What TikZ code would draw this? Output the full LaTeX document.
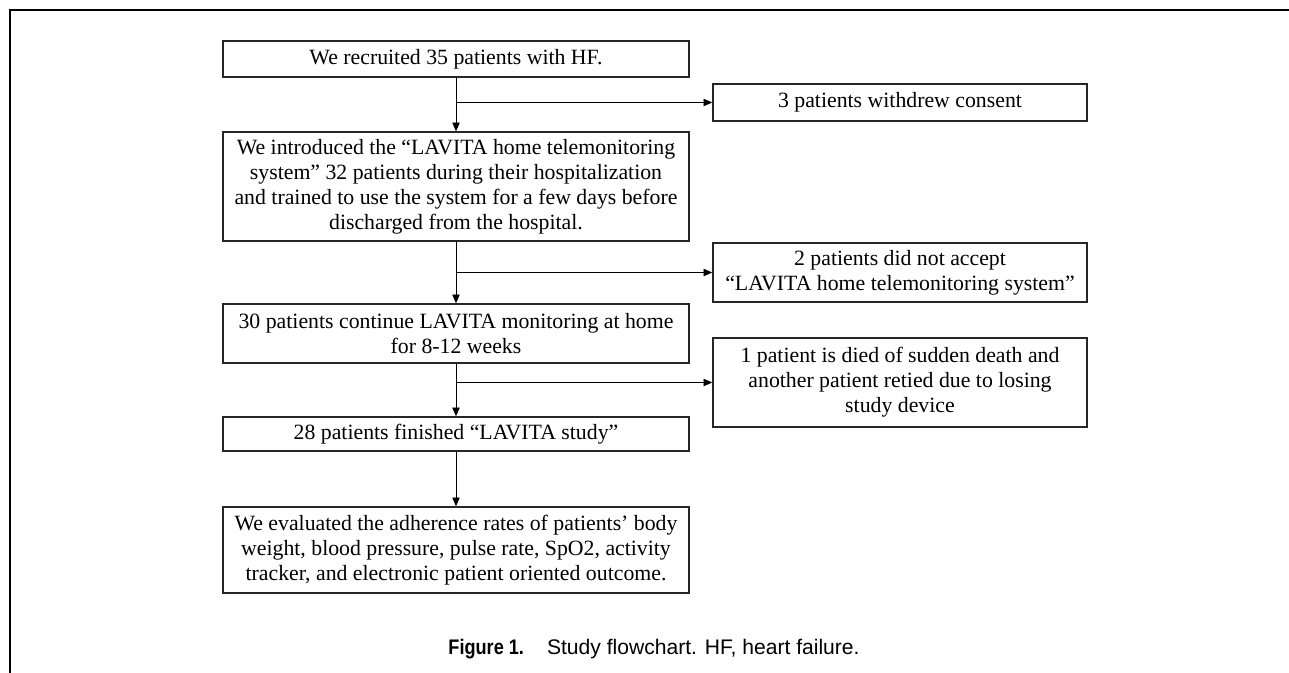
\documentclass[tikz,border=0pt]{standalone}
\usepackage{fontspec}
\setmainfont{Liberation Serif}
\newfontfamily\capfont{Liberation Sans}
\usepackage{graphicx}
\usepackage{tikz}
\usetikzlibrary{calc,arrows.meta}

\begin{document}
\begin{tikzpicture}[>={Triangle[length=5pt,width=4.2pt]}, every node/.style={draw=black!85, rectangle, line width=0.8pt, align=center, inner xsep=1pt, font=\fontsize{12.4}{14.2}\selectfont}]
    \useasboundingbox (0,0) rectangle (25.78,-13.46);
    % Frame
    \draw[line width=1.3pt] (0.2,-13.46) -- (0.2,-0.2) -- (25.78,-0.2);

    % Nodes
    \node (recruit) [minimum width=9.32cm, minimum height=0.72cm] at (9.12,-1.18) {We recruited 35 patients with HF.};
    \node (introduce) [below of=recruit, node distance=2.55cm, minimum width=9.32cm, minimum height=2.18cm] {We introduced the “LAVITA home telemonitoring\\system” 32 patients during their hospitalization\\and trained to use the system for a few days before\\discharged from the hospital.};
    \node (continue) [below of=introduce, node distance=2.94cm, minimum width=9.32cm, minimum height=1.18cm] {30 patients continue LAVITA monitoring at home\\for 8-12 weeks};
    \node (finished) [below of=continue, node distance=2.01cm, minimum width=9.32cm, minimum height=0.68cm] {28 patients finished “LAVITA study”};
    \node (evaluate) [below of=finished, node distance=2.32cm, minimum width=9.32cm, minimum height=1.72cm] {We evaluated the adherence rates of patients’ body\\weight, blood pressure, pulse rate, SpO2, activity\\tracker, and electronic patient oriented outcome.};

    \node (withdrew) [right of=recruit, node distance=8.88cm, yshift=-0.87cm, minimum width=7.48cm, minimum height=0.74cm] {3 patients withdrew consent};
    \node (notaccept) [right of=introduce, node distance=8.88cm, yshift=-1.72cm, minimum width=7.48cm, minimum height=1.18cm] {2 patients did not accept\\“LAVITA home telemonitoring system”};
    \node (died) [right of=continue, node distance=8.88cm, yshift=-0.98cm, minimum width=7.48cm, minimum height=1.78cm] {1 patient is died of sudden death and\\another patient retied due to losing\\study device};

    \node (caption) [draw=none, font=\capfont\fontsize{12}{14}\selectfont] at (13.08,-12.98) {\scalebox{0.86}[1]{\bfseries Figure 1.}\hspace{0.46cm}Study flowchart. HF, heart failure.};

    % Paths
    \draw[->, line width=0.5pt] (recruit) -- (introduce);
    \draw[->, line width=0.5pt] (introduce) -- (continue);
    \draw[->, line width=0.5pt] (continue) -- (finished);
    \draw[->, line width=0.5pt] (finished) -- (evaluate);
    \draw[->, line width=0.5pt] (recruit.south |- withdrew) -- (withdrew);
    \draw[->, line width=0.5pt] (introduce.south |- notaccept) -- (notaccept);
    \draw[->, line width=0.5pt] (continue.south |- died) -- (died);
  \end{tikzpicture}
\end{document}
